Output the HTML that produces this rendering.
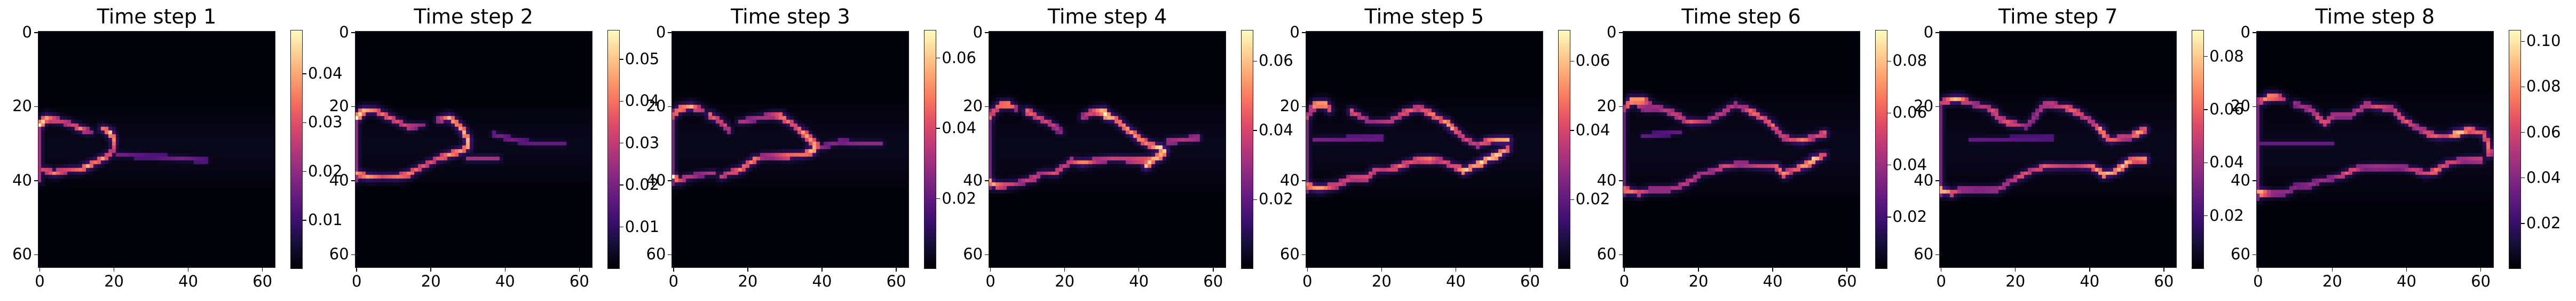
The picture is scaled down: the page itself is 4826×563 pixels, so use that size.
<!DOCTYPE html>
<html><head><meta charset="utf-8">
<style>
html,body{margin:0;padding:0;background:#fff;}
#fig{position:relative;width:4826px;height:563px;overflow:hidden;background:#fff;font-family:"DejaVu Sans","Liberation Sans",sans-serif;color:#000;}
.t{position:absolute;white-space:nowrap;line-height:1;}
.title{font-size:38px;}
.tick{font-size:29px;}
.ax{position:absolute;box-sizing:border-box;}
.tk{position:absolute;background:#000;}
canvas{position:absolute;}
</style></head><body>
<div id="fig"></div>
<script>
// ---- data ----
const titles = ["Time step 1","Time step 2","Time step 3","Time step 4","Time step 5","Time step 6","Time step 7","Time step 8"];
const vmaxes = [0.049,0.057,0.068,0.069,0.069,0.092,0.090,0.105];
const cbTicks = [
  [0.01,0.02,0.03,0.04],
  [0.01,0.02,0.03,0.04,0.05],
  [0.02,0.04,0.06],
  [0.02,0.04,0.06],
  [0.02,0.04,0.06],
  [0.02,0.04,0.06,0.08],
  [0.02,0.04,0.06,0.08],
  [0.02,0.04,0.06,0.08,0.10]
];
const axisTicks = [0,20,40,60];
const bands = [[20,42],[19,42],[18,43],[18,44],[17,45],[16,46],[16,46],[16,47]];
// streaks: polylines [col,row] with relative intensities (fraction of vmax)
const streaks1 = [
 {p:[[0,25],[2,23],[6,24],[9,25],[11,26],[14,27]],v:[1,.8,.55,.6,.75,.4]},
 {p:[[17,26],[19,27],[20,29],[20,31],[19,33],[17,34],[15,35],[13,36],[11,37],[8,37],[4,38],[1,37]],v:[.7,.9,.75,.6,.6,.8,.7,.85,.7,.6,.75,.6]},
 {p:[[0,24],[0,40]],v:[.45,.45]},
 {p:[[21,33],[30,33.5],[38,34],[45,34.5]],v:[.35,.3,.35,.3]}
];
const streaks2 = [
 {p:[[0,23],[2,21],[5,21],[8,22.5],[11,24],[14,25.5],[18,25]],v:[1,.85,.7,.7,.6,.6,.4]},
 {p:[[22,23.5],[25,23],[27,24.5],[29,27],[30,29],[30,31],[28,32],[25,33],[21,34.5],[17,36.5],[14,38.3],[11,39],[7,39],[3,39],[0,38]],v:[.5,.85,.8,.85,.85,.8,.8,.8,.6,.65,.8,.7,.6,.8,.8]},
 {p:[[30,34],[38,34]],v:[.45,.45]},
 {p:[[37,27.5],[42,29],[48,30],[56,30]],v:[.35,.35,.3,.3]},
 {p:[[0,22],[0,40]],v:[.4,.4]}
];
const streaks3 = [
 {p:[[0,22.5],[2,20.5],[5,20],[8,21]],v:[.7,.8,.85,.5]},
 {p:[[10,22.3],[12,23.5],[14,25],[15,26.5]],v:[.75,.6,.6,.5]},
 {p:[[18,24.2],[23,23],[27,22.3],[29,22.5],[31,24],[33,25.4],[35,27],[37,29],[38.5,30.5],[37.5,32],[35,33],[31,33.3],[27,33.3],[24,33.5],[22,34.3],[20,35.6],[17.5,37.3],[15,38],[13,39]],v:[.5,.45,.6,.8,.7,.65,.8,.8,.8,.95,.7,.75,.55,.5,.8,.7,.75,.6,.55]},
 {p:[[11,37.9],[7,38.4],[3.5,39.3],[1.5,40.3],[0,39]],v:[.5,.45,.55,.6,1]},
 {p:[[40,31],[45,29.5],[50,30],[56,30]],v:[.4,.4,.4,.4]},
 {p:[[0,21],[0,41]],v:[.35,.35]}
];
const streaks4 = [
 {p:[[0,23],[1,21],[3,19.5],[5,19.5],[7,20.5]],v:[.7,.6,.8,.85,.5]},
 {p:[[10,21.3],[12,22.3],[14,23.5],[17,25],[19,27]],v:[.75,.65,.6,.55,.4]},
 {p:[[25,22.8],[28,21.3],[30.5,21.3],[31.5,22.5],[34,23.5],[36,25.3],[38,27],[40,28.7],[43,30.4],[46,31.2],[47,32],[46,33.3],[43.5,34.5],[42,36]],v:[.5,.7,1,1,.75,.8,.8,.8,.75,1,.9,.9,.9,.9]},
 {p:[[42,34.5],[37,34.3],[33,34],[29,34.5],[25,35.2],[22,34.7],[20,36],[17.5,38],[14,37.8],[12,39.3],[8,40.6],[4,41.3],[1.5,41.3],[0,40.3]],v:[.75,.6,.55,.55,.8,.6,.55,.65,.5,.6,.5,.65,.8,.9]},
 {p:[[48,29.5],[52,29],[56,28.5]],v:[.5,.5,.5]},
 {p:[[0,21],[0,42]],v:[.35,.35]}
];
const streaks5 = [
 {p:[[0,23],[1,21],[2.5,19.4],[5,19.4],[6,21]],v:[.6,.5,.9,.9,.6]},
 {p:[[12,21.3],[14,22.5],[17,24.2],[22,24.2],[25,22.3],[27,21.3],[30,20.3],[32,21.3],[34,22.3],[35.5,23.2],[37.5,24.2],[39,26],[41,27.3],[43,29],[46,30.4],[49,29.2],[51,29.2],[54,29.2]],v:[.7,.55,.45,.55,.6,.7,.6,.7,.8,.65,.85,.8,.6,.6,.55,.75,.85,.9]},
 {p:[[54,31.5],[51,33.3],[48,34.3],[47,35.2],[45,36],[42.3,37.4],[40,36.2],[35,34.3],[33,34.3],[30,34.3],[27,35.2],[25,36.2],[21.5,37.2],[18,37.2],[16,39.3],[12,39.3],[8,41.3],[3.3,42.2],[0,41.3]],v:[.75,1,.85,1,.8,.95,.65,.6,.8,.7,.6,.75,.55,.6,.65,.6,.6,.85,.8]},
 {p:[[2,29],[20,28.5]],v:[.35,.35]},
 {p:[[0,22],[0,43]],v:[.35,.35]}
];
const streaks6 = [
 {p:[[0,21],[2,18.4],[5,18.4],[7,19]],v:[.5,.9,.9,.45]},
 {p:[[4,20],[6,20.5],[9,20.3],[12,21.3],[14.5,22.5],[16,23.5],[18,24.2],[22,24.2],[27,21.3],[30,19.4],[32,20.3],[34,21.3],[36,22.3],[38,23.5],[40,25],[41,26.3],[43,28.3],[46,29.2],[48,29.2],[51,28.3],[54,27.3]],v:[.5,.5,.5,.55,.6,.55,.7,.5,.55,.5,.5,.75,.7,.65,.7,.6,.6,.65,.8,.55,.7]},
 {p:[[54,33],[51,34.3],[50,35.2],[48,36.2],[45,37.2],[43.3,38.4],[41,36.2],[38.5,36.2],[31,35.5],[26.6,36.2],[24.7,37.2],[20.3,38.4],[17.5,40.3],[15.6,41.3],[12,42.5],[7,42.5],[4,43.4],[0,42.5]],v:[.6,1,.85,.85,.6,.8,.7,.6,.5,.65,.5,.5,.55,.55,.5,.5,.65,.8]},
 {p:[[5,28],[15,27]],v:[.3,.3]},
 {p:[[0,20],[0,44]],v:[.3,.3]}
];
const streaks7 = [
 {p:[[0,19],[1.5,18.5],[3.5,18],[5.5,18],[8,19]],v:[.55,.7,.9,.8,.5]},
 {p:[[9,19.4],[12.4,20.3],[14.4,21.3],[15.3,23],[18.4,24.4],[23,25.4],[26,22],[28,19.4],[30,19.4],[32,20.1],[34,20.3],[36,21.3],[38,22.3],[39.5,23.3],[41,24.6],[43.3,26.3],[44.3,28.3],[46,29.2],[49,28.3],[51,28.3],[53,27.3],[55,26.3]],v:[.5,.55,.65,.55,.7,.45,.45,.55,.6,.55,.7,.7,.6,.55,.55,.85,.7,.7,.6,.55,.9,.7]},
 {p:[[55,34.3],[52,34.3],[50,35.2],[47.4,37.4],[44,38.4],[41,36.2],[36,36.2],[31.6,36.2],[28,36.2],[24.4,37.4],[22.5,38.4],[18.7,40.3],[15.3,42.5],[10.5,42.5],[5.3,42.5],[3,43.4],[0,42.5]],v:[.85,.75,.9,.85,.9,.75,.55,.6,.7,.55,.7,.5,.5,.45,.5,.7,1]},
 {p:[[8,29],[30,28.5]],v:[.3,.3]},
 {p:[[0,19],[0,44]],v:[.35,.35]}
];
const streaks8 = [
 {p:[[0,18.5],[1.5,18.4],[3,17.4],[5,17.4],[7,18]],v:[.55,.75,.85,.8,.5]},
 {p:[[10,19.2],[13.4,20.5],[15.5,21.8],[16.3,23.2],[18.3,24.4],[20.3,22.3],[25,22.3],[29.3,19.4],[32.4,20.2],[36.4,20.5],[38.7,23.1],[40.5,24.4],[42.2,25.4],[44,26.2],[46.2,27.5],[48.5,28.2],[50.8,28.2],[53.4,27.4],[57,26.3],[61,27.4],[62.3,31.3],[62.3,33.2]],v:[.45,.5,.55,.65,.65,.5,.5,.55,.65,.55,.65,.65,.55,.5,.7,.65,.55,1,.75,.65,.75,.6]},
 {p:[[60,34.3],[55.4,34.3],[50.8,35.5],[49.4,36.3],[48.2,37.3],[45.6,38.3],[42.8,37.3],[38.7,36.3],[31.8,36.3],[28.4,36.3],[25.2,37.3],[23.5,38.3],[20.3,39.4],[16.3,40.2],[13.4,41.5],[10.6,41.5],[7.7,43.3],[3.7,43.5],[0.5,43.3]],v:[.6,.5,.65,.6,.8,.6,.6,.45,.5,.45,.65,.65,.45,.45,.45,.4,.45,.5,1]},
 {p:[[1,30],[20,30]],v:[.3,.3]},
 {p:[[0,18],[0,45]],v:[.35,.35]}
];
const allStreaks = [streaks1,streaks2,streaks3,streaks4,streaks5,streaks6,streaks7,streaks8];

// ---- layout ----
const N = 64;
const AX_W = 445, AX_H = 443, AX_T = 57.5, PANEL_DX = 593.7, AX_L0 = 71;
const CB_DX = 473, CB_W = 23, CB_T = 56, CB_H = 447;
const fig = document.getElementById('fig');

const magmaStops = [[0,[0,0,4]],[.1,[20,14,54]],[.2,[59,15,112]],[.3,[100,26,128]],[.4,[140,41,129]],[.5,[183,55,121]],[.6,[222,73,104]],[.7,[247,112,92]],[.8,[254,159,109]],[.9,[254,207,146]],[1,[252,253,191]]];
function magma(f){
  f=Math.max(0,Math.min(1,f));
  for(let i=1;i<magmaStops.length;i++){
    if(f<=magmaStops[i][0]){
      const a=magmaStops[i-1],b=magmaStops[i],t=(f-a[0])/(b[0]-a[0]);
      return 'rgb('+a[1].map((x,k)=>Math.round(x+(b[1][k]-x)*t)).join(',')+')';
    }
  }
  return 'rgb(252,253,191)';
}
function segInfo(px,py,p,v){
  let best={d:1e9,val:0};
  for(let i=0;i<p.length-1;i++){
    const [x1,y1]=p[i],[x2,y2]=p[i+1];
    const dx=x2-x1,dy=y2-y1,L2=dx*dx+dy*dy||1e-9;
    let t=((px-x1)*dx+(py-y1)*dy)/L2; t=Math.max(0,Math.min(1,t));
    const cx=x1+t*dx,cy=y1+t*dy,d=Math.hypot(px-cx,py-cy);
    if(d<best.d) best={d:d,val:v[i]+(v[i+1]-v[i])*t};
  }
  return best;
}
function cellValue(panel,c,r){
  const band=bands[panel];
  const mid=(band[0]+band[1])/2, half=(band[1]-band[0])/2;
  const dz=Math.abs(r-mid)/half;
  let f=0.012+0.03*Math.max(0,1-dz*dz);
  for(const s of allStreaks[panel]){
    const b=segInfo(c,r,s.p,s.v);
    let core = b.d<0.75 ? b.val*(1-b.d*0.35) : 0;
    let halo = 0.3*b.val*Math.exp(-b.d*b.d/3);
    f=Math.max(f,core,halo);
  }
  return f;
}
function add(tag,cls,name,style,text){
  const e=document.createElement(tag);
  if(cls) e.className=cls;
  
  
  Object.assign(e.style,style);
  if(text!==undefined) e.textContent=text;
  fig.appendChild(e);
  return e;
}

for(let i=0;i<titles.length;i++){
  const L=AX_L0+PANEL_DX*i;
  const xOf=c=>L+(c+0.5)*AX_W/N;
  const yOf=r=>AX_T+(r+0.5)*AX_H/N;
  add('div','t title','panel-title',{left:(L+AX_W/2)+'px',top:'12px',transform:'translateX(-50%)'},titles[i]);
  const cv=document.createElement('canvas');
  
  
  cv.width=AX_W;cv.height=AX_H;
  cv.style.left=L+'px';cv.style.top=AX_T+'px';
  fig.appendChild(cv);
  const ctx=cv.getContext('2d');
  const cw=AX_W/N,ch=AX_H/N;
  for(let r=0;r<N;r++)for(let c=0;c<N;c++){
    ctx.fillStyle=magma(cellValue(i,c,r));
    ctx.fillRect(Math.floor(c*cw),Math.floor(r*ch),Math.ceil(cw)+1,Math.ceil(ch)+1);
  }
  add('div','ax','axes-frame',{left:L+'px',top:AX_T+'px',width:AX_W+'px',height:AX_H+'px',border:'1.5px solid #222'});
  for(const tv of axisTicks){
    const x=xOf(tv), y=yOf(tv);
    add('div','tk','x-tick',{left:(x-0.75)+'px',top:(AX_T+AX_H)+'px',width:'1.5px',height:'7px'});
    add('div','t tick','x-tick-label',{left:x+'px',top:'512px',transform:'translateX(-50%)'},String(tv));
    add('div','tk','y-tick',{left:(L-7)+'px',top:(y-0.75)+'px',width:'7px',height:'1.5px'});
    add('div','t tick','y-tick-label',{right:(4826-(L-11))+'px',top:(y-15)+'px'},String(tv));
  }
  const cbL=L+CB_DX;
  const stops=magmaStops.map(s=>magma(1-s[0])+' '+(s[0]*100)+'%').join(',');
  add('div','ax','colorbar',{left:cbL+'px',top:CB_T+'px',width:CB_W+'px',height:CB_H+'px',background:'linear-gradient(to bottom,'+stops+')',border:'1.5px solid #222'});
  const vmax=vmaxes[i];
  for(const tv of cbTicks[i]){
    const y=CB_T+CB_H*(1-tv/vmax);
    add('div','tk','colorbar-tick',{left:(cbL+CB_W)+'px',top:(y-0.75)+'px',width:'7px',height:'1.5px'});
    add('div','t tick','colorbar-tick-label',{left:(cbL+CB_W+10)+'px',top:(y-15)+'px'},tv.toFixed(2));
  }
}
</script>
</body></html>
